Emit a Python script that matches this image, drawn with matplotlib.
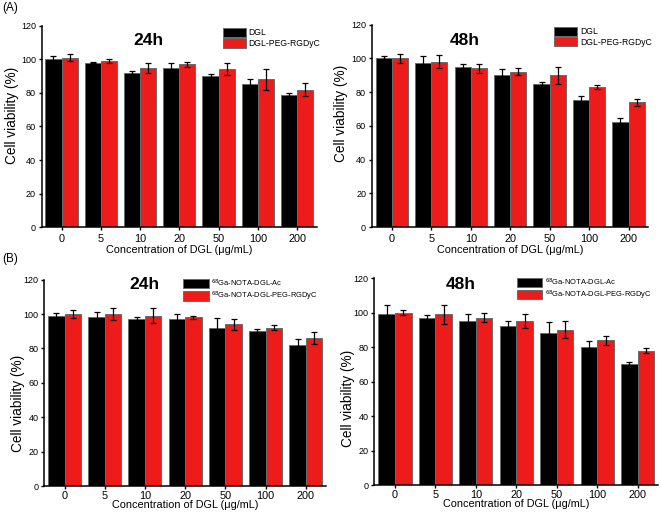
import numpy as np
import matplotlib.pyplot as plt

plt.rcParams['font.family'] = ['Liberation Sans', 'DejaVu Sans']

conc = ['0', '5', '10', '20', '50', '100', '200']

# (A) 24h
a24_dgl = [100, 98, 92, 95, 90, 85, 79]
a24_dgl_err = [2, 0.5, 1, 3, 1, 3, 1]
a24_peg = [101, 99, 95, 97, 94, 88, 82]
a24_peg_err = [2, 1, 3, 1.5, 3.5, 6, 4]
# (A) 48h
a48_dgl = [100, 97, 95, 90, 85, 75, 62]
a48_dgl_err = [1.5, 4.5, 1.5, 3.5, 1, 2.5, 2.5]
a48_peg = [100, 98, 94, 92, 90, 83, 74]
a48_peg_err = [2.5, 4, 2.5, 2, 5, 1, 2]
# (B) 24h
b24_ac = [99, 98.5, 97, 97, 92, 90, 82]
b24_ac_err = [1.5, 2.5, 1.5, 3, 5.5, 1.5, 3.5]
b24_peg = [100, 100, 99, 98, 94, 92, 86]
b24_peg_err = [2.5, 3.5, 4.5, 1, 3, 1.5, 3.5]
# (B) 48h
b48_ac = [99, 97, 95, 92, 88, 80, 70]
b48_ac_err = [5.5, 1.5, 4, 3, 6.5, 3.5, 1.5]
b48_peg = [100, 99, 97, 95, 90, 84, 78]
b48_peg_err = [1.5, 5.5, 2.5, 4, 5, 2.5, 1.5]

labels_a = ['DGL', 'DGL-PEG-RGDyC']
labels_b = ['$^{68}$Ga-NOTA-DGL-Ac', '$^{68}$Ga-NOTA-DGL-PEG-RGDyC']

fig = plt.figure(figsize=(6.61, 5.16), dpi=100)

def panel(rect, v1, e1, v2, e2, title, labels, title_xy, leg_xy, hl, leg_fs,
          ylab_xy, xlab_y, xpad):
    ax = fig.add_axes(rect)
    x = np.arange(len(conc))
    w = 0.41
    ekw = dict(elinewidth=0.9, capthick=0.9, ecolor='black')
    ax.bar(x - w/2, v1, w, yerr=e1, color='black', edgecolor='#6a6a6a', linewidth=0.7,
           capsize=2.2, error_kw=ekw, label=labels[0])
    ax.bar(x + w/2, v2, w, yerr=e2, color='#ee1b1b', edgecolor='#6a6a6a', linewidth=0.7,
           capsize=2.2, error_kw=ekw, label=labels[1])
    ax.set_xlim(-0.51, 6.5)
    ax.set_ylim(0, 120)
    ax.set_yticks(range(0, 121, 20))
    ax.set_xticks(x)
    ax.set_xticklabels(conc)
    ax.spines['top'].set_visible(False)
    ax.spines['right'].set_visible(False)
    ax.spines['left'].set_linewidth(1.1)
    ax.spines['bottom'].set_linewidth(1.1)
    ax.tick_params(axis='y', labelsize=6.5, length=2.5, width=1, pad=1.5)
    ax.tick_params(axis='x', labelsize=7.8, length=2.5, width=1, pad=xpad)
    ax.set_xlabel('Concentration of DGL (\u03bcg/mL)', fontsize=7.8, va='top')
    ax.xaxis.set_label_coords(0.5, xlab_y)
    ax.set_ylabel('Cell viability (%)', fontsize=9.8, va='center')
    ax.yaxis.set_label_coords(*ylab_xy)
    ax.text(title_xy[0], title_xy[1], title, transform=ax.transAxes, fontsize=12.5,
            fontweight='bold', ha='center', va='center')
    ax.legend(loc='upper left', bbox_to_anchor=leg_xy, fontsize=leg_fs, frameon=False,
              handlelength=hl, handleheight=1.35 * 6 / leg_fs, borderaxespad=0, borderpad=0,
              labelspacing=0.1, handletextpad=0.35)
    for p in ax.get_legend().get_patches():
        p.set_edgecolor('#6a6a6a')
    return ax

panel([0.0628, 0.5595, 0.4163, 0.3907], a24_dgl, a24_dgl_err, a24_peg, a24_peg_err,
      '24h', labels_a, (0.387, 0.929), (0.658, 0.99), 2.68, 6.2, (-0.109, 0.557), -0.088, 2.5)
panel([0.5623, 0.560, 0.4185, 0.3924], a48_dgl, a48_dgl_err, a48_peg, a48_peg_err,
      '48h', labels_a, (0.336, 0.923), (0.659, 0.99), 2.68, 6.2, (-0.111, 0.56), -0.089, 2.5)
panel([0.0666, 0.0581, 0.4266, 0.400], b24_ac, b24_ac_err, b24_peg, b24_peg_err,
      '24h', labels_b, (0.356, 0.975), (0.494, 1.01), 3.4, 5.4, (-0.092, 0.4), -0.068, 1.0)
panel([0.5663, 0.0595, 0.4292, 0.4017], b48_ac, b48_ac_err, b48_peg, b48_peg_err,
      '48h', labels_b, (0.306, 0.97), (0.502, 1.008), 3.4, 5.4, (-0.092, 0.42), -0.066, 1.0)

fig.text(0.003, 1 - 7.5/516, '(A)', fontsize=8.5, va='center')
fig.text(0.003, 1 - 259/516, '(B)', fontsize=8.5, va='center')

fig.savefig('out.png', dpi=100)
